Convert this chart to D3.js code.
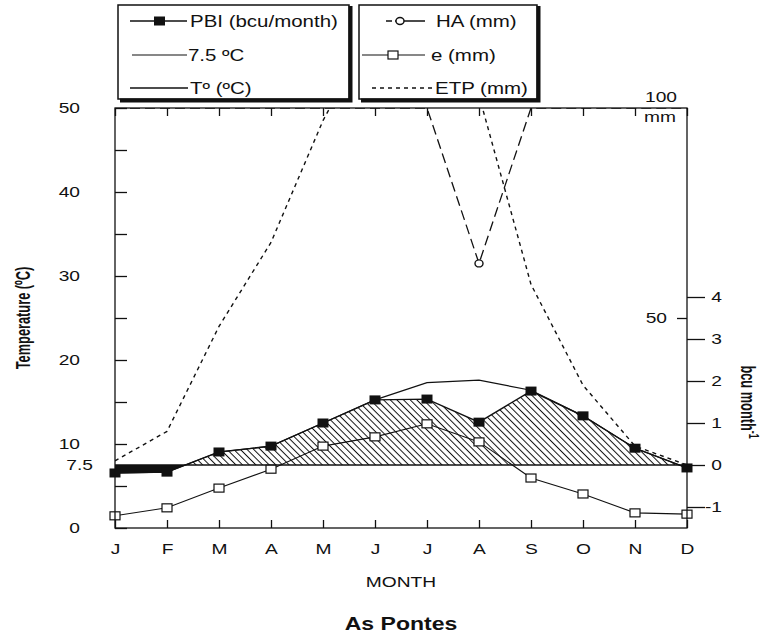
<!DOCTYPE html>
<html>
<head>
<meta charset="utf-8">
<script src="https://cdn.jsdelivr.net/npm/d3@7"></script>
<style>
  body { margin: 0; background: #fff; }
  svg text { font-family: "Liberation Sans", Arial, sans-serif; fill: #111; }
</style>
</head>
<body>
<div id="chart"></div>
<script>
// data
const months = ["J", "F", "M", "A", "M", "J", "J", "A", "S", "O", "N", "D"];
const pbi = [-0.19, -0.17, 0.31, 0.45, 1.0, 1.55, 1.57, 1.02, 1.76, 1.17, 0.40, -0.07];   // bcu/month
const tempC = [6.55, 6.65, 9.05, 9.75, 12.5, 15.25, 17.3, 17.6, 16.4, 13.35, 9.5, 7.15]; // ºC
const threshold = 7.5;                                                                   // ºC
const evap = [2.9, 4.8, 9.5, 14.0, 19.5, 21.7, 24.8, 20.5, 11.9, 8.1, 3.6, 3.3];         // e (mm)
const etp = [16, 23, 48, 68, 97, 120, 125, 103, 58, 34, 19.5, 15];                       // ETP (mm)
const ha = [100, 100, 100, 100, 100, 100, 100, 63, 100, 100, 100, 100];                   // HA (mm)

const tempTicks = [0, 5, 10, 15, 20, 25, 30, 35, 40, 45, 50];
const bcuTicks = [-1, 0, 1, 2, 3, 4];
const mmTicks = [50, 100];

// the scan is stretched sideways, text gets the same stretch
const SX = 1.28;
function widen(sel) {
    sel.each(function () {
        const t = d3.select(this);
        t.attr("x", (+t.attr("x") || 0) / SX)
            .attr("transform", `scale(${SX},1)`);
    });
}

// layout
const W = 779, H = 635;
const margin = { top: 108, right: 92, bottom: 107, left: 115 };
const width = W - margin.left - margin.right;
const height = H - margin.top - margin.bottom;

const root = d3.select("#chart")
    .append("svg")
    .attr("width", W)
    .attr("height", H);

const svg = root.append("g")
    .attr("transform", `translate(${margin.left},${margin.top})`);

// scales
const x = d3.scaleLinear().domain([0, months.length - 1]).range([0, width]);
const yT = d3.scaleLinear().domain([0, 50]).range([height, 0]);
const yB = d3.scaleLinear().domain([-1.5, 8.5]).range([height, 0]);
const yMM = d3.scaleLinear().domain([0, 100]).range([height, 0]);

// clip paths + hatch
const defs = root.append("defs");
defs.append("clipPath").attr("id", "plot-clip")
    .append("rect").attr("width", width).attr("height", height);
defs.append("clipPath").attr("id", "above-clip")
    .append("rect").attr("width", width).attr("height", yB(0));
defs.append("clipPath").attr("id", "below-clip")
    .append("rect").attr("y", yB(0)).attr("width", width).attr("height", height - yB(0));

const hatch = defs.append("pattern")
    .attr("id", "hatch")
    .attr("patternUnits", "userSpaceOnUse")
    .attr("width", 4.7)
    .attr("height", 4.7)
    .attr("patternTransform", "rotate(-45)");
hatch.append("line")
    .attr("x1", 2.35).attr("y1", 0)
    .attr("x2", 2.35).attr("y2", 4.7)
    .attr("stroke", "#111")
    .attr("stroke-width", 1);

// PBI area: hatched above 0, black below
const pbiArea = d3.area()
    .x((d, i) => x(i))
    .y0(yB(0))
    .y1(d => yB(d));

svg.append("path")
    .datum(pbi)
    .attr("d", pbiArea)
    .attr("fill", "url(#hatch)")
    .attr("clip-path", "url(#above-clip)");

svg.append("path")
    .datum(pbi)
    .attr("d", pbiArea)
    .attr("fill", "#111")
    .attr("clip-path", "url(#below-clip)");

// 7.5 ºC line
svg.append("path")
    .datum(months)
    .attr("d", d3.line().x((d, i) => x(i)).y(yT(threshold)))
    .attr("fill", "none")
    .attr("stroke", "#111")
    .attr("stroke-width", 1.6);

// temperature
svg.append("path")
    .datum(tempC)
    .attr("d", d3.line().x((d, i) => x(i)).y(d => yT(d)))
    .attr("fill", "none")
    .attr("stroke", "#111")
    .attr("stroke-width", 1.2);

// ETP
svg.append("path")
    .datum(etp)
    .attr("d", d3.line().x((d, i) => x(i)).y(d => yMM(d)))
    .attr("clip-path", "url(#plot-clip)")
    .attr("fill", "none")
    .attr("stroke", "#111")
    .attr("stroke-width", 1.4)
    .attr("stroke-dasharray", "4,4");

// HA
svg.append("path")
    .datum(ha)
    .attr("d", d3.line().x((d, i) => x(i)).y(d => yMM(d)))
    .attr("clip-path", "url(#plot-clip)")
    .attr("fill", "none")
    .attr("stroke", "#111")
    .attr("stroke-width", 1.3)
    .attr("stroke-dasharray", "10,5");

svg.selectAll(".ha-pt")
    .data(ha.map((v, i) => ({ v, i })).filter(d => d.v < 100))
    .join("ellipse")
    .attr("class", "ha-pt")
    .attr("cx", d => x(d.i))
    .attr("cy", d => yMM(d.v))
    .attr("rx", 4)
    .attr("ry", 3.5)
    .attr("fill", "#fff")
    .attr("stroke", "#111")
    .attr("stroke-width", 1.4);

// e
svg.append("path")
    .datum(evap)
    .attr("d", d3.line().x((d, i) => x(i)).y(d => yMM(d)))
    .attr("fill", "none")
    .attr("stroke", "#111")
    .attr("stroke-width", 1.1);

svg.selectAll(".e-pt")
    .data(evap)
    .join("rect")
    .attr("class", "e-pt")
    .attr("x", (d, i) => x(i) - 5)
    .attr("y", d => yMM(d) - 4)
    .attr("width", 10)
    .attr("height", 8)
    .attr("fill", "#fff")
    .attr("stroke", "#111")
    .attr("stroke-width", 1.2);

// PBI
svg.append("path")
    .datum(pbi)
    .attr("d", d3.line().x((d, i) => x(i)).y(d => yB(d)))
    .attr("fill", "none")
    .attr("stroke", "#111")
    .attr("stroke-width", 1.3);

svg.selectAll(".pbi-pt")
    .data(pbi)
    .join("rect")
    .attr("class", "pbi-pt")
    .attr("x", (d, i) => x(i) - 5.5)
    .attr("y", d => yB(d) - 4.5)
    .attr("width", 11)
    .attr("height", 9)
    .attr("fill", "#111");

// frame
svg.append("rect")
    .attr("width", width)
    .attr("height", height)
    .attr("fill", "none")
    .attr("stroke", "#111")
    .attr("stroke-width", 1.3);

// axes
const tickFont = g => g.selectAll("text").attr("font-size", 15).attr("fill", "#111");
const cleanAxis = g => {
    g.select(".domain").remove();
    g.selectAll("line").attr("stroke", "#111").attr("stroke-width", 1.3);
    tickFont(g);
};

const leftAxis = svg.append("g")
    .call(d3.axisLeft(yT)
        .tickValues(tempTicks)
        .tickSizeInner(-12)
        .tickSizeOuter(0)
        .tickPadding(35)
        .tickFormat(d => d % 10 === 0 ? d : ""))
    .call(cleanAxis);
widen(leftAxis.selectAll("text"));

const leftExtra = svg.append("g")
    .call(d3.axisLeft(yT)
        .tickValues([threshold])
        .tickSize(0)
        .tickPadding(22)
        .tickFormat(d => d))
    .call(cleanAxis);
widen(leftExtra.selectAll("text"));

const bottomAxis = svg.append("g")
    .attr("transform", `translate(0,${height})`)
    .call(d3.axisBottom(x)
        .tickValues(d3.range(months.length))
        .tickSizeInner(-8)
        .tickSizeOuter(0)
        .tickPadding(15)
        .tickFormat(i => months[i]))
    .call(cleanAxis);
widen(bottomAxis.selectAll("text"));

svg.append("g")
    .call(d3.axisTop(x)
        .tickValues(d3.range(months.length))
        .tickSizeInner(-8)
        .tickSizeOuter(0)
        .tickFormat(""))
    .call(cleanAxis);

const bcuAxis = svg.append("g")
    .attr("transform", `translate(${width},0)`)
    .call(d3.axisRight(yB)
        .tickValues(bcuTicks)
        .tickSizeInner(18)
        .tickSizeOuter(0)
        .tickFormat(d => d < 0 ? "-" + Math.abs(d) : d))
    .call(cleanAxis);
bcuAxis.selectAll("text").attr("text-anchor", "end").attr("x", 35);
widen(bcuAxis.selectAll("text"));

const mmAxis = svg.append("g")
    .attr("transform", `translate(${width},0)`)
    .call(d3.axisLeft(yMM)
        .tickValues(mmTicks)
        .tickSizeInner(10)
        .tickSizeOuter(0)
        .tickPadding(10))
    .call(cleanAxis);
mmAxis.selectAll(".tick")
    .filter(d => d === 100)
    .call(t => {
        t.select("line").remove();
        t.select("text").attr("x", -10).attr("y", -11);
        t.append("text")
            .attr("x", -11)
            .attr("y", 9)
            .attr("dy", "0.32em")
            .attr("text-anchor", "end")
            .attr("font-size", 15)
            .text("mm");
    });
widen(mmAxis.selectAll("text"));

// axis titles (condensed, bold-ish like the original)
root.append("text")
    .attr("transform", `translate(23,${margin.top + height / 2}) scale(${SX},1) rotate(-90) scale(0.8,1)`)
    .attr("text-anchor", "middle")
    .attr("dy", "0.35em")
    .attr("font-size", 16)
    .attr("font-weight", "bold")
    .text("Temperature (ºC)");

const bcuLabel = root.append("text")
    .attr("transform", `translate(748,402) scale(${SX},1) rotate(90) scale(0.8,1)`)
    .attr("text-anchor", "middle")
    .attr("dy", "0.35em")
    .attr("font-size", 16)
    .attr("font-weight", "bold");
bcuLabel.append("tspan").text("bcu month");
bcuLabel.append("tspan").attr("font-size", 11).attr("dy", "-0.6em").text("-1");

const monthTitle = root.append("text")
    .attr("x", margin.left + width / 2)
    .attr("y", 587)
    .attr("text-anchor", "middle")
    .attr("font-size", 15)
    .text("MONTH");
widen(monthTitle);

const title = root.append("text")
    .attr("x", margin.left + width / 2)
    .attr("y", 630)
    .attr("text-anchor", "middle")
    .attr("font-size", 18)
    .attr("font-weight", "bold")
    .text("As Pontes");
widen(title);

// legend boxes
const boxes = [
    { x: 118, w: 231 },
    { x: 359, w: 178 }
];
boxes.forEach(b => {
    root.append("rect")
        .attr("x", b.x).attr("y", 5)
        .attr("width", b.w).attr("height", 94)
        .attr("fill", "#fff")
        .attr("stroke", "#111")
        .attr("stroke-width", 1.5);
    root.append("path")
        .attr("d", `M${b.x + 2},${100.5}H${b.x + b.w + 1.5}V${6}`)
        .attr("fill", "none")
        .attr("stroke", "#111")
        .attr("stroke-width", 4);
});

const rowY = [21, 55, 88];
const lg = root.append("g");

// left box entries
lg.append("line").attr("x1", 130).attr("x2", 187).attr("y1", rowY[0]).attr("y2", rowY[0])
    .attr("stroke", "#111").attr("stroke-width", 1.3);
lg.append("rect").attr("x", 154).attr("y", rowY[0] - 4.5).attr("width", 11).attr("height", 9).attr("fill", "#111");
lg.append("line").attr("x1", 132).attr("x2", 187).attr("y1", rowY[1]).attr("y2", rowY[1])
    .attr("stroke", "#111").attr("stroke-width", 1.2);
lg.append("line").attr("x1", 130).attr("x2", 188).attr("y1", rowY[2]).attr("y2", rowY[2])
    .attr("stroke", "#111").attr("stroke-width", 1.3);

// right box entries
lg.append("line").attr("x1", 386).attr("x2", 426).attr("y1", rowY[0]).attr("y2", rowY[0])
    .attr("stroke", "#111").attr("stroke-width", 1.3).attr("stroke-dasharray", "6,3,30");
lg.append("ellipse").attr("cx", 400).attr("cy", rowY[0]).attr("rx", 4).attr("ry", 3.5)
    .attr("fill", "#fff").attr("stroke", "#111").attr("stroke-width", 1.4);
lg.append("line").attr("x1", 362).attr("x2", 425).attr("y1", rowY[1]).attr("y2", rowY[1])
    .attr("stroke", "#111").attr("stroke-width", 1.1);
lg.append("rect").attr("x", 388).attr("y", rowY[1] - 4).attr("width", 10).attr("height", 8)
    .attr("fill", "#fff").attr("stroke", "#111").attr("stroke-width", 1.2);
lg.append("line").attr("x1", 372).attr("x2", 432).attr("y1", rowY[2]).attr("y2", rowY[2])
    .attr("stroke", "#111").attr("stroke-width", 1.4).attr("stroke-dasharray", "4,4");

const legendText = [
    { x: 190, y: rowY[0], t: "PBI (bcu/month)" },
    { x: 188, y: rowY[1], t: "7.5 ºC" },
    { x: 190, y: rowY[2], t: "Tº (ºC)" },
    { x: 436, y: rowY[0], t: "HA (mm)" },
    { x: 431, y: rowY[1], t: "e (mm)" },
    { x: 435, y: rowY[2], t: "ETP (mm)" }
];
lg.selectAll(".lt")
    .data(legendText)
    .join("text")
    .attr("class", "lt")
    .attr("x", d => d.x)
    .attr("y", d => d.y)
    .attr("dy", "0.35em")
    .attr("font-size", 16)
    .text(d => d.t)
    .call(widen);
</script>
</body>
</html>
